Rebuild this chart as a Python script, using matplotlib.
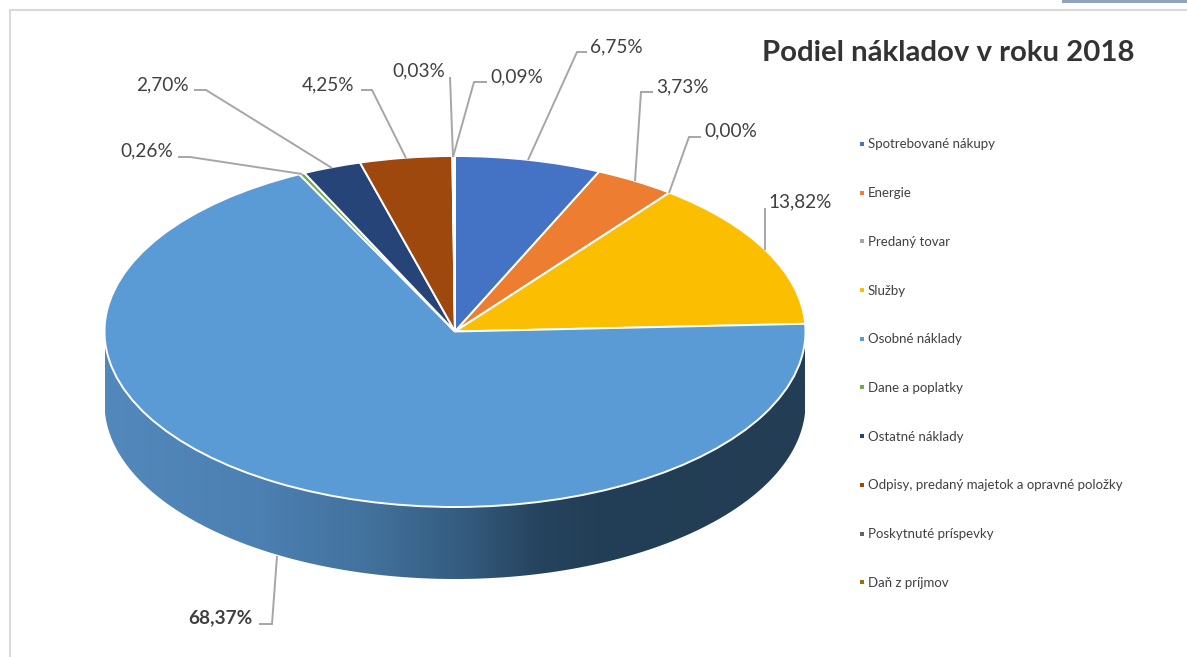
import numpy as np
import matplotlib
matplotlib.use("Agg")
import matplotlib.pyplot as plt
from matplotlib.lines import Line2D
from matplotlib.patches import Polygon, Rectangle
from matplotlib.colors import LinearSegmentedColormap

categories = ["Spotrebované nákupy", "Energie", "Predaný tovar", "Služby", "Osobné náklady",
              "Dane a poplatky", "Ostatné náklady", "Odpisy, predaný majetok a opravné položky",
              "Poskytnuté príspevky", "Daň z príjmov"]
values = [6.75, 3.73, 0.00, 13.82, 68.37, 0.26, 2.70, 4.25, 0.03, 0.09]
colors = ["#4472C4", "#ED7D31", "#A5A5A5", "#FBBE00", "#5B9BD5",
          "#70AD47", "#264478", "#9E480E", "#636363", "#997300"]
title = "Podiel nákladov v roku 2018"

# layout (pixels of the picture)
W, H = 1187, 657
label_pos = [(590, 47, "left"), (656, 87, "left"), (704, 131, "left"), (768, 202, "left"), (188, 618, "left"),
             (120, 151, "left"), (136, 85, "left"), (302, 85, "left"), (392, 71, "left"), (490, 77, "left")]
leaders = [[(528, 160), (577, 52), (587, 52)],
           [(635, 181), (641, 92), (653, 92)],
           [(669, 193), (689, 137), (701, 137)],
           [(765, 250), (765, 208)],
           [(277, 556), (272, 624), (259, 624)],
           [(302, 174), (190, 157), (178, 157)],
           [(332, 168), (206, 90), (194, 90)],
           [(406, 158), (372, 90), (361, 90)],
           [(453, 157), (450, 77)],
           [(453, 157), (474, 82), (487, 82)]]
CX, CY, RX, RY, DEPTH = 455, 331.5, 350.5, 175.5, 72

plt.rcParams["font.family"] = ["Lato", "DejaVu Sans"]
fig = plt.figure(figsize=(W / 100, H / 100), dpi=100)

# overlay in pixel coordinates
ov = fig.add_axes([0, 0, 1, 1], zorder=3)
ov.set_xlim(0, W)
ov.set_ylim(H, 0)
ov.axis("off")
ov.patch.set_alpha(0)

# background frame
bg = fig.add_axes([0, 0, 1, 1], zorder=0)
bg.set_xlim(0, W)
bg.set_ylim(H, 0)
bg.axis("off")
bg.plot([10, 10, W], [H, 9.5, 9.5], color="#D9D9D9", lw=1.5, solid_joinstyle="miter")
bg.add_patch(Rectangle((1062, 0), 125, 2.5, color="#8FA3BD", lw=0))

# pie: axes box spans the ellipse and the wall
d = DEPTH / RY
ax = fig.add_axes([(CX - RX) / W, 1 - (CY + RY + DEPTH) / H, 2 * RX / W, (2 * RY + DEPTH) / H], zorder=1)
wedges, _ = ax.pie(values, colors=colors, startangle=90, counterclock=False, radius=1,
                   wedgeprops=dict(edgecolor="white", linewidth=1.4))
for w in wedges:
    w.set_zorder(3)

# side wall with a horizontal gradient
t = np.linspace(np.pi, 2 * np.pi, 300)
upper = np.column_stack([np.cos(t), np.sin(t)])
lower = np.column_stack([np.cos(t[::-1]), np.sin(t[::-1]) - d])
wall = Polygon(np.vstack([upper, lower]), closed=True, transform=ax.transData, fc="none", ec="none")
ax.add_patch(wall)
cmap = LinearSegmentedColormap.from_list("wall", [(0, "#5388BC"), (0.22, "#4C80B2"), (0.38, "#42719C"),
                                                  (0.52, "#335A7C"), (0.62, "#26435E"), (0.70, "#233F57"),
                                                  (1, "#223D54")])
im = ax.imshow(np.linspace(0, 1, 512)[None, :], cmap=cmap, extent=(-1, 1, -1 - d, 1),
               aspect="auto", zorder=1)
im.set_clip_path(wall)
ax.set_aspect("auto")
ax.set_xlim(-1, 1)
ax.set_ylim(-1 - d, 1)
ax.axis("off")

# data labels and leader lines
for v, (x, y, ha), pts, cat in zip(values, label_pos, leaders, categories):
    xs, ys = zip(*pts)
    ov.plot(xs, ys, color="#A6A6A6", lw=1.4, solid_capstyle="butt", solid_joinstyle="miter")
    bold = cat == "Osobné náklady"
    ov.text(x, y, f"{v:.2f}".replace(".", ",") + "%", fontsize=13.7, ha=ha, va="center",
            color="#404040", fontweight="bold" if bold else "normal")

ov.text(762, 53, title, fontsize=21.2, fontweight="bold", color="#333333", ha="left", va="center")

handles = [Line2D([], [], ls="none", marker="s", ms=3, mfc=c, mec=c, mew=0) for c in colors]
leg = ov.legend(handles, categories, loc="upper left", bbox_to_anchor=(858, 138.5), bbox_transform=ov.transData,
                frameon=False, fontsize=9.5, labelcolor="#404040", labelspacing=2.782,
                handlelength=0.6, handletextpad=0.15, borderpad=0, borderaxespad=0)

fig.savefig("out.png", dpi=100, facecolor="white")
